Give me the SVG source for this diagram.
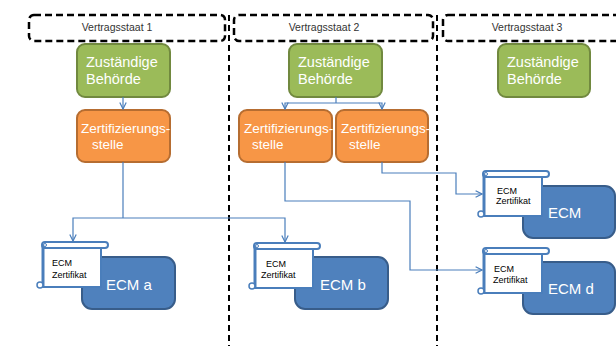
<svg xmlns="http://www.w3.org/2000/svg" width="616" height="346" viewBox="0 0 616 346">
<style>
.hdr{fill:none;stroke:#000;stroke-width:2.5;stroke-dasharray:7 4}
.vl{stroke:#000;stroke-width:2;stroke-dasharray:6 4}
.ht{font-family:"Liberation Sans",Arial,sans-serif;font-size:10.5px;fill:#333;text-anchor:middle}
.gr{fill:#9BBB59;stroke:#71893F;stroke-width:2}
.or{fill:#F79646;stroke:#B66D31;stroke-width:2}
.bl{fill:#4F81BD;stroke:#385D8A;stroke-width:2}
.wt{font-family:"Liberation Sans",Arial,sans-serif;fill:#fff}
.g14{font-size:14.5px}
.o13{font-size:13.5px}
.e15{font-size:15px}
.st{font-family:"Liberation Sans",Arial,sans-serif;font-size:9px;fill:#000}
.cn{fill:none;stroke:#4A7EBB;stroke-width:1.2}
.sc{fill:#fff;stroke:#4A7EBB;stroke-width:2}
</style>
<defs>
<marker id="arr" viewBox="0 0 10 10" refX="9" refY="5" markerWidth="8" markerHeight="8" markerUnits="userSpaceOnUse" orient="auto">
<path d="M1,1 L9,5 L1,9" fill="none" stroke="#4A7EBB" stroke-width="1.5"/>
</marker>
<g id="scroll">
<rect class="sc" x="0" y="5" width="58" height="40"/>
<rect class="sc" x="-1" y="0" width="66" height="6" rx="3"/>
<line x1="0" y1="3" x2="0" y2="45" stroke="#4A7EBB" stroke-width="3"/>
<circle cx="-3" cy="43" r="3" fill="#fff" stroke="#4A7EBB" stroke-width="1.5"/>
<circle cx="2" cy="3" r="1.5" fill="#fff" stroke="#4A7EBB" stroke-width="1"/>
</g>
</defs>

<g id="headers">
<rect class="hdr" x="29" y="15" width="196" height="26" rx="5"/>
<text class="ht" x="117" y="31">Vertragsstaat 1</text>
<rect class="hdr" x="234" y="15" width="199" height="26" rx="5"/>
<text class="ht" x="324" y="31">Vertragsstaat 2</text>
<rect class="hdr" x="443" y="15" width="200" height="26" rx="5"/>
<text class="ht" x="527" y="31">Vertragsstaat 3</text>
</g>
<g id="dividers">
<line class="vl" x1="229" y1="15" x2="229" y2="346"/>
<line class="vl" x1="437" y1="15" x2="437" y2="346"/>
</g>

<g id="behoerde1">
<rect class="gr" x="77" y="44" width="93" height="53" rx="8"/>
<text class="wt g14" x="86" y="67">Zuständige</text>
<text class="wt g14" x="86" y="84">Behörde</text>
</g>
<g id="behoerde2">
<rect class="gr" x="289" y="44" width="93" height="53" rx="8"/>
<text class="wt g14" x="298" y="67">Zuständige</text>
<text class="wt g14" x="298" y="84">Behörde</text>
</g>
<g id="behoerde3">
<rect class="gr" x="498" y="44" width="92" height="53" rx="8"/>
<text class="wt g14" x="507" y="67">Zuständige</text>
<text class="wt g14" x="507" y="84">Behörde</text>
</g>

<g id="stelle1">
<rect class="or" x="77" y="110" width="93" height="52" rx="8"/>
<text class="wt o13" x="81" y="133">Zertifizierungs-</text>
<text class="wt o13" x="92" y="149">stelle</text>
</g>
<g id="stelle2a">
<rect class="or" x="239" y="110" width="93" height="52" rx="8"/>
<text class="wt o13" x="244" y="133">Zertifizierungs-</text>
<text class="wt o13" x="252" y="149">stelle</text>
</g>
<g id="stelle2b">
<rect class="or" x="336" y="110" width="92" height="52" rx="8"/>
<text class="wt o13" x="341" y="133">Zertifizierungs-</text>
<text class="wt o13" x="349" y="149">stelle</text>
</g>

<g id="ecm-a">
<rect class="bl" x="82" y="257" width="93" height="52" rx="10"/>
<text class="wt e15" x="106" y="290">ECM a</text>
<use href="#scroll" x="43" y="242"/>
<text class="st" x="52" y="266">ECM</text>
<text class="st" x="52" y="278">Zertifikat</text>
</g>
<g id="ecm-b">
<rect class="bl" x="295" y="257" width="93" height="52" rx="10"/>
<text class="wt e15" x="320" y="290">ECM b</text>
<use href="#scroll" x="255" y="243"/>
<text class="st" x="266" y="267">ECM</text>
<text class="st" x="261" y="278">Zertifikat</text>
</g>
<g id="ecm-c">
<rect class="bl" x="523" y="186" width="92" height="52" rx="10"/>
<text class="wt e15" x="548" y="218">ECM</text>
<use href="#scroll" x="484" y="171"/>
<text class="st" x="497" y="194">ECM</text>
<text class="st" x="496" y="204">Zertifikat</text>
</g>
<g id="ecm-d">
<rect class="bl" x="523" y="262" width="92" height="52" rx="10"/>
<text class="wt e15" x="548" y="294">ECM d</text>
<use href="#scroll" x="484" y="248"/>
<text class="st" x="494" y="272">ECM</text>
<text class="st" x="493" y="283">Zertifikat</text>
</g>

<g id="connectors">
<path class="cn" d="M123,97 L123,109" marker-end="url(#arr)"/>
<path class="cn" d="M336,97 L336,103"/>
<path class="cn" d="M336,103 L285,103 L285,109" marker-end="url(#arr)"/>
<path class="cn" d="M336,103 L382,103 L382,109" marker-end="url(#arr)"/>
<path class="cn" d="M123,162 L123,218"/>
<path class="cn" d="M123,218 L73,218 L73,241" marker-end="url(#arr)"/>
<path class="cn" d="M123,218 L285,218 L285,242" marker-end="url(#arr)"/>
<path class="cn" d="M285,162 L285,201 L410,201 L410,270 L482,270" marker-end="url(#arr)"/>
<path class="cn" d="M382,162 L382,173 L456,173 L456,194 L482,194" marker-end="url(#arr)"/>
</g>
</svg>
